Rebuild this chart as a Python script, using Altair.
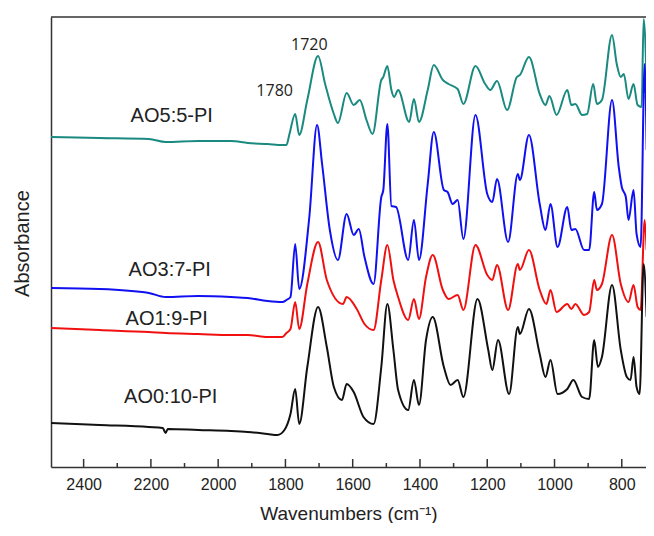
import altair as alt
import pandas as pd

# ---- data ----
series_names = ["AO5:5-PI", "AO3:7-PI", "AO1:9-PI", "AO0:10-PI"]
series_colors = ["#1a8a80", "#1010f0", "#f01010", "#111111"]

ao5_wn = [2497, 2353, 2206, 2156, 2059, 1962, 1912, 1853, 1809, 1797, 1788, 1771, 1759, 1735, 1703, 1682,
          1656, 1644, 1618, 1597, 1579, 1559, 1541, 1515, 1509, 1497, 1485, 1477, 1465, 1432, 1418, 1403,
          1377, 1359, 1332, 1315, 1288, 1271, 1235, 1206, 1191, 1171, 1141, 1112, 1103, 1076, 1044, 1027,
          1015, 994, 962, 950, 938, 918, 903, 885, 874, 859, 829, 815, 803, 794, 780, 765, 753, 741, 735, 726]
ao5_ab = [3.30, 3.29, 3.28, 3.25, 3.26, 3.26, 3.24, 3.23, 3.22, 3.22, 3.33, 3.53, 3.32, 3.67, 4.11, 3.83,
          3.53, 3.44, 3.74, 3.62, 3.67, 3.47, 3.33, 3.87, 3.90, 4.01, 3.77, 3.70, 3.77, 3.45, 3.68, 3.45,
          3.77, 4.02, 3.87, 3.83, 3.78, 3.63, 4.01, 3.83, 3.77, 3.86, 3.57, 3.90, 3.92, 4.10, 3.73, 3.62,
          3.71, 3.52, 3.77, 3.62, 3.63, 3.52, 3.53, 3.83, 3.63, 3.67, 4.32, 4.03, 3.90, 3.93, 3.68, 3.83,
          3.62, 3.60, 4.48, 3.83]

ao3_wn = [2497, 2353, 2206, 2156, 2059, 1962, 1912, 1853, 1809, 1797, 1785, 1771, 1759, 1729, 1706, 1691,
          1668, 1644, 1618, 1597, 1582, 1565, 1538, 1515, 1509, 1497, 1485, 1471, 1435, 1418, 1403, 1377,
          1359, 1329, 1318, 1303, 1288, 1271, 1235, 1200, 1185, 1171, 1138, 1109, 1103, 1076, 1044, 1027,
          1012, 991, 962, 950, 938, 912, 897, 882, 874, 859, 829, 809, 800, 788, 780, 765, 756, 744, 732, 726]
ao3_ab = [1.79, 1.78, 1.74, 1.70, 1.71, 1.70, 1.69, 1.66, 1.65, 1.67, 1.70, 2.23, 1.78, 2.50, 3.42, 3.03,
          2.37, 2.07, 2.53, 2.32, 2.38, 2.10, 1.83, 2.70, 2.77, 3.43, 2.61, 2.60, 2.07, 2.47, 2.07, 2.83,
          3.35, 2.77, 2.75, 2.63, 2.67, 2.28, 3.52, 2.73, 2.65, 2.88, 2.25, 2.93, 2.87, 3.32, 2.63, 2.37,
          2.63, 2.20, 2.60, 2.37, 2.38, 2.17, 2.17, 2.75, 2.57, 2.63, 3.67, 3.00, 2.80, 2.70, 2.47, 2.77,
          2.33, 2.20, 4.03, 3.17]

ao1_wn = [2497, 2353, 2206, 2156, 2059, 1962, 1912, 1853, 1809, 1797, 1785, 1771, 1759, 1735, 1703, 1677,
          1629, 1618, 1588, 1565, 1538, 1515, 1497, 1479, 1465, 1435, 1418, 1403, 1382, 1362, 1332, 1315,
          1288, 1271, 1235, 1200, 1185, 1171, 1138, 1109, 1103, 1076, 1044, 1024, 1012, 994, 962, 950,
          938, 912, 897, 882, 874, 859, 829, 803, 780, 765, 753, 744, 732, 726]
ao1_ab = [1.39, 1.37, 1.35, 1.34, 1.33, 1.32, 1.32, 1.30, 1.30, 1.34, 1.38, 1.65, 1.38, 1.83, 2.25, 1.87,
          1.63, 1.70, 1.58, 1.43, 1.37, 1.87, 2.22, 1.87, 1.70, 1.47, 1.68, 1.48, 1.90, 2.12, 1.77, 1.68,
          1.72, 1.57, 2.22, 1.92, 1.87, 2.02, 1.57, 2.03, 1.97, 2.17, 1.77, 1.63, 1.77, 1.55, 1.63, 1.58,
          1.63, 1.52, 1.55, 1.87, 1.77, 1.83, 2.32, 1.83, 1.65, 1.82, 1.60, 1.57, 2.47, 2.17]

ao0_wn = [2497, 2353, 2206, 2165, 2156, 2150, 2059, 1962, 1912, 1853, 1824, 1803, 1785, 1771, 1759, 1735,
          1703, 1677, 1656, 1632, 1618, 1597, 1568, 1538, 1515, 1497, 1479, 1465, 1435, 1418, 1403, 1382,
          1362, 1329, 1309, 1288, 1271, 1229, 1197, 1185, 1168, 1135, 1109, 1103, 1076, 1044, 1027, 1012,
          991, 962, 944, 918, 897, 882, 871, 859, 829, 803, 785, 774, 765, 756, 747, 735, 726]
ao0_ab = [0.44, 0.42, 0.40, 0.39, 0.34, 0.38, 0.37, 0.36, 0.35, 0.33, 0.32, 0.37, 0.53, 0.78, 0.43, 1.00,
          1.60, 1.20, 0.80, 0.67, 0.83, 0.75, 0.50, 0.43, 1.00, 1.63, 1.17, 0.77, 0.57, 0.87, 0.62, 1.27,
          1.50, 1.00, 0.82, 0.87, 0.70, 1.68, 1.17, 0.97, 1.27, 0.73, 1.40, 1.33, 1.58, 1.13, 0.90, 1.07,
          0.73, 0.78, 0.87, 0.70, 0.68, 1.27, 1.00, 1.10, 1.82, 1.17, 0.90, 0.87, 1.10, 0.80, 0.73, 2.03, 1.50]

label_wn = [2138, 2144, 2153, 2141]
label_ab = [3.51, 1.97, 1.48, 0.70]

peak_text = ["1720", "1780"]
peak_wn = [1729, 1832]
peak_ab = [4.22, 3.76]

major_ticks = [2400, 2200, 2000, 1800, 1600, 1400, 1200, 1000, 800]
minor_ticks = [2300, 2100, 1900, 1700, 1500, 1300, 1100, 900]

X_DOMAIN = [2497, 728]
Y_DOMAIN = [0, 4.5]
W, H = 595, 450
FONT = "Liberation Sans"

rows = []
for name, wn, ab in zip(series_names,
                        [ao5_wn, ao3_wn, ao1_wn, ao0_wn],
                        [ao5_ab, ao3_ab, ao1_ab, ao0_ab]):
    for w, a in zip(wn, ab):
        rows.append({"series": name, "wn": w, "ab": a})
df = pd.DataFrame(rows)

xs = alt.Scale(domain=X_DOMAIN, nice=False, zero=False)
ys = alt.Scale(domain=Y_DOMAIN, nice=False, zero=False)

lines = alt.Chart(df).mark_line(strokeWidth=2, interpolate="monotone", clip=True).encode(
    x=alt.X("wn:Q", scale=xs,
            axis=alt.Axis(title="Wavenumbers (cm⁻¹)", values=major_ticks, format="d",
                          ticks=False, tickSize=0, labelPadding=9, labelFontSize=16,
                          labelFont=FONT, labelColor="#222222", titleFont=FONT,
                          titleFontSize=19, titleFontWeight="normal", titleColor="#222222",
                          titleY=46, titleBaseline="middle", domainColor="#333333",
                          domainWidth=1.5, grid=False)),
    y=alt.Y("ab:Q", scale=ys,
            axis=alt.Axis(title="Absorbance", labels=False, ticks=False, grid=False,
                          titleFont=FONT, titleFontSize=20, titleFontWeight="normal",
                          titleColor="#222222", titleX=-29, titleY=226, titleAlign="center",
                          titleBaseline="middle", domainColor="#333333", domainWidth=1.5)),
    color=alt.Color("series:N", scale=alt.Scale(domain=series_names, range=series_colors), legend=None),
    order=alt.Order("wn:Q", sort="descending"),
)

lab_df = pd.DataFrame({"name": series_names, "wn": label_wn, "ab": label_ab})
labels = alt.Chart(lab_df).mark_text(font=FONT, fontSize=20, color="#222222", align="center",
                                     baseline="middle").encode(
    x=alt.X("wn:Q", scale=xs), y=alt.Y("ab:Q", scale=ys), text="name:N")

pk_df = pd.DataFrame({"t": peak_text, "wn": peak_wn, "ab": peak_ab})
peaks = alt.Chart(pk_df).mark_text(font="Open Sans", fontSize=16, color="#222222", align="center",
                                   baseline="middle").encode(
    x=alt.X("wn:Q", scale=xs), y=alt.Y("ab:Q", scale=ys), text="t:N")

maj = alt.Chart(pd.DataFrame({"wn": major_ticks})).mark_rule(color="#333333", strokeWidth=1.5).encode(
    x=alt.X("wn:Q", scale=xs), y=alt.value(H - 8), y2=alt.value(H))
mino = alt.Chart(pd.DataFrame({"wn": minor_ticks})).mark_rule(color="#333333", strokeWidth=1.5).encode(
    x=alt.X("wn:Q", scale=xs), y=alt.value(H - 4), y2=alt.value(H))

top = alt.Chart(pd.DataFrame({"a": [0]})).mark_rule(color="#333333", strokeWidth=1.5).encode(
    x=alt.value(0), x2=alt.value(W), y=alt.value(0))

chart = alt.layer(lines, labels, peaks, maj, mino, top).properties(
    width=W, height=H,
    autosize=alt.AutoSizeParams(type="none"),
    padding={"left": 43, "top": 9, "right": 0, "bottom": 56},
).configure_view(stroke=None)

chart.save("out.html", embed_options={"renderer": "svg", "actions": False})
